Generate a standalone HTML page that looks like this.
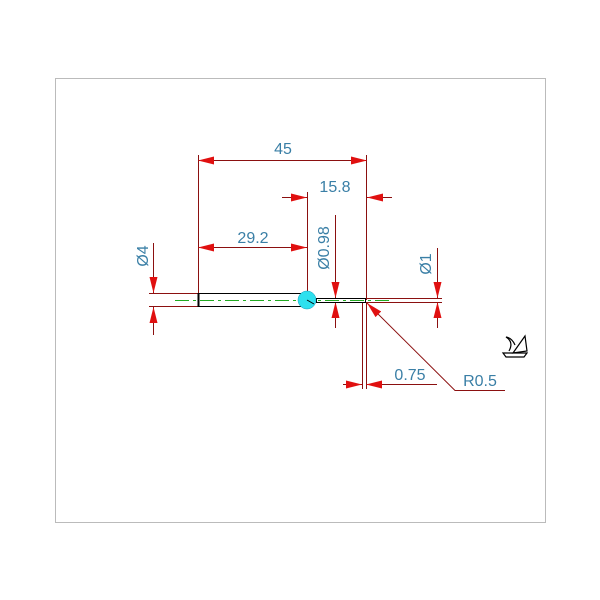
<!DOCTYPE html>
<html><head><style>body{margin:0;background:#fff}svg{display:block}</style></head><body>
<svg width="600" height="600" viewBox="0 0 600 600" xmlns="http://www.w3.org/2000/svg">
<defs>
<marker id="a" viewBox="0 0 10 6" refX="10" refY="3" markerWidth="16" markerHeight="8" markerUnits="userSpaceOnUse" orient="auto-start-reverse" preserveAspectRatio="none"><path d="M0,0L10,3L0,6z" fill="#e01010"/></marker>
</defs>
<rect x="55.5" y="78.5" width="490" height="444" fill="none" stroke="#bbb"/>
<g stroke="#8b1010" stroke-width="1" fill="none">
<line x1="198.5" y1="155" x2="198.5" y2="293"/>
<line x1="366.5" y1="155" x2="366.5" y2="300"/>
<line x1="307.5" y1="192" x2="307.5" y2="292"/>
<line x1="149" y1="293.5" x2="199" y2="293.5"/>
<line x1="149" y1="306.5" x2="199" y2="306.5"/>
<line x1="366" y1="298.5" x2="442" y2="298.5"/>
<line x1="366" y1="302.5" x2="442" y2="302.5"/>
<line x1="362.5" y1="303" x2="362.5" y2="389"/>
<line x1="366.5" y1="303" x2="366.5" y2="389"/>
<line x1="198" y1="160.5" x2="367" y2="160.5" marker-start="url(#a)" marker-end="url(#a)"/>
<line x1="198" y1="247.5" x2="307" y2="247.5" marker-start="url(#a)" marker-end="url(#a)"/>
<line x1="282" y1="197.5" x2="307" y2="197.5" marker-end="url(#a)"/>
<line x1="392" y1="197.5" x2="367" y2="197.5" marker-end="url(#a)"/>
<line x1="153.5" y1="243" x2="153.5" y2="293" marker-end="url(#a)"/>
<line x1="153.5" y1="335" x2="153.5" y2="307" marker-end="url(#a)"/>
<line x1="335.5" y1="215" x2="335.5" y2="298" marker-end="url(#a)"/>
<line x1="335.5" y1="328" x2="335.5" y2="302" marker-end="url(#a)"/>
<line x1="437.5" y1="248" x2="437.5" y2="298" marker-end="url(#a)"/>
<line x1="437.5" y1="328" x2="437.5" y2="302" marker-end="url(#a)"/>
<line x1="343" y1="384.5" x2="362" y2="384.5" marker-end="url(#a)"/>
<line x1="437" y1="384.5" x2="366" y2="384.5" marker-end="url(#a)"/>
<polyline points="505,390.5 455,390.5 367,303" marker-end="url(#a)"/>
</g>
<rect x="198.5" y="293.5" width="102" height="13" fill="none" stroke="#000"/>
<line x1="198.5" y1="293" x2="198.5" y2="307" stroke="#000" stroke-width="2"/>
<rect x="316.5" y="298.5" width="49" height="4" fill="none" stroke="#000"/>
<line x1="175" y1="300.5" x2="390" y2="300.5" stroke="#2a2" stroke-dasharray="14,4,3,4"/>
<circle cx="307" cy="300" r="9" fill="#2ee0ee" stroke="#19b" stroke-width="0.5"/>
<line x1="307" y1="300" x2="314" y2="304" stroke="#000"/>
<g stroke="#000" fill="none" stroke-width="1.2">
<path d="M503,353 L527,353 L524,357 L506,357 Z"/>
<path d="M513,353 L525,336 L527,351 Z"/>
<path d="M515,345 Q512,338 506,337 Q514,342 509,351"/>
</g>
<g font-family="Liberation Sans, sans-serif" font-size="16" fill="#3a7fa6">
<text x="283" y="154" text-anchor="middle">45</text>
<text x="335" y="192" text-anchor="middle">15.8</text>
<text x="253" y="243" text-anchor="middle">29.2</text>
<text x="410" y="380" text-anchor="middle">0.75</text>
<text x="480" y="386" text-anchor="middle">R0.5</text>
<text transform="translate(148,256) rotate(-90)" text-anchor="middle">Ø4</text>
<text transform="translate(329,248) rotate(-90)" text-anchor="middle">Ø0.98</text>
<text transform="translate(431,264) rotate(-90)" text-anchor="middle">Ø1</text>
</g>
</svg>
</body></html>
